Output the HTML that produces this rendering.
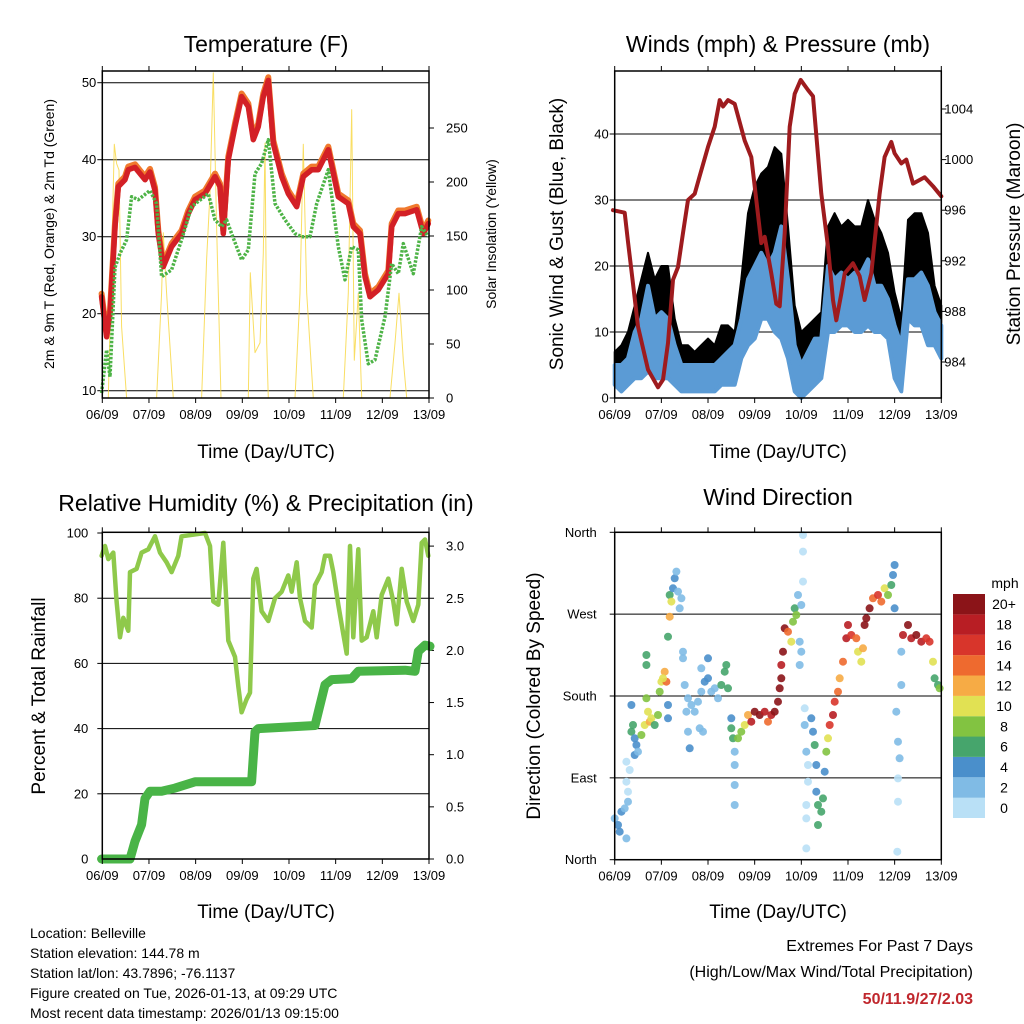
<!DOCTYPE html>
<html><head><meta charset="utf-8">
<style>
html,body{margin:0;padding:0;background:#fff;}
svg{display:block;font-family:"Liberation Sans",Arial,sans-serif;}
</style></head>
<body>
<svg id="s" width="1024" height="1024" viewBox="0 0 1024 1024" xmlns="http://www.w3.org/2000/svg">
<g id="g1"></g>
<g id="g2"></g>
<g id="g3"></g>
<g id="g4"></g>
<g id="gt">
<text x="266" y="52" font-size="23" text-anchor="middle">Temperature (F)</text>
<text x="778" y="52" font-size="23" text-anchor="middle">Winds (mph) &amp; Pressure (mb)</text>
<text x="266" y="511" font-size="23" text-anchor="middle">Relative Humidity (%) &amp; Precipitation (in)</text>
<text x="778" y="505" font-size="23" text-anchor="middle">Wind Direction</text>
<text x="266" y="458" font-size="19" text-anchor="middle">Time (Day/UTC)</text>
<text x="778" y="458" font-size="19" text-anchor="middle">Time (Day/UTC)</text>
<text x="266" y="918" font-size="19" text-anchor="middle">Time (Day/UTC)</text>
<text x="778" y="918" font-size="19" text-anchor="middle">Time (Day/UTC)</text>
<text transform="translate(54,234) rotate(-90)" font-size="14" text-anchor="middle">2m &amp; 9m T (Red, Orange) &amp; 2m Td (Green)</text>
<text transform="translate(496,234) rotate(-90)" font-size="14" text-anchor="middle">Solar Insolation (Yellow)</text>
<text transform="translate(563,234) rotate(-90)" font-size="19" text-anchor="middle">Sonic Wind &amp; Gust (Blue, Black)</text>
<text transform="translate(1020,234) rotate(-90)" font-size="19" text-anchor="middle">Station Pressure (Maroon)</text>
<text transform="translate(45,696) rotate(-90)" font-size="19" text-anchor="middle">Percent &amp; Total Rainfall</text>
<text transform="translate(540,696) rotate(-90)" font-size="19" text-anchor="middle">Direction (Colored By Speed)</text>
<g font-size="14">
<text x="30" y="938">Location: Belleville</text>
<text x="30" y="958">Station elevation: 144.78 m</text>
<text x="30" y="978">Station lat/lon: 43.7896; -76.1137</text>
<text x="30" y="998">Figure created on Tue, 2026-01-13, at 09:29 UTC</text>
<text x="30" y="1018">Most recent data timestamp: 2026/01/13 09:15:00</text>
</g>
<text x="973" y="951" font-size="16" text-anchor="end">Extremes For Past 7 Days</text>
<text x="973" y="977" font-size="16" text-anchor="end">(High/Low/Max Wind/Total Precipitation)</text>
<text x="973" y="1004" font-size="16" font-weight="bold" fill="#c0272d" text-anchor="end">50/11.9/27/2.03</text>
</g>
</svg>
<script>
// ---------- DATA ----------
const dayLabels=["06/09","07/09","08/09","09/09","10/09","11/09","12/09","13/09"];
const tempX=[20,35,45,60,70,90,100,120,150,165,180,190,205,230,260,280,300,330,360,375,385,400,420,440,460,475,490,505,520,535,560,580,605,625,650,670,700,730,760,775,795,810,825,850,880,890,910,930,965,985,1000];
const tempV=[22.2,17,20,31.3,36.5,37.4,38.7,39,37.4,38.4,36,30.4,26.1,28.7,30.4,33,34.8,35.6,37.8,36.5,30.4,40,44.3,48.2,46.9,42.6,44.3,48.2,50.3,42.1,37.8,35.6,33.9,37.8,38.7,38.7,41.3,35.2,34.3,31.3,30.4,24.8,22.2,23.1,25.2,31.3,33,33,33.5,30.4,31.7];
const dewX=[20,35,45,60,75,95,110,130,165,185,200,230,260,290,340,360,380,395,410,440,460,480,500,520,540,570,600,620,645,665,700,730,750,770,790,800,820,840,870,890,910,925,955,980,1000];
const dewV=[9.7,15.3,11.8,26,27.8,29.6,35.2,34.8,36,34.3,24.8,25.7,29.6,33.9,35.6,32.2,31.3,32.2,30.4,27,28.3,38.2,39.5,42.6,34.3,32.2,30.4,30,30,34.3,38.7,28.7,24.4,28.7,28.3,19.2,13.5,14,19.6,26.5,25.2,29.1,25.2,31.3,30];
const solarX=[22,40,58,65,72,80,95,185,200,205,215,235,320,335,345,355,365,378,460,466,480,495,505,510,515,520,600,615,625,635,655,745,760,770,778,790,800,885,900,912,925,935,1002];
const solarV=[0,0,235,217,211,66,0,0,97,153,97,0,0,128,190,301,159,0,0,116,42,51,134,236,51,0,0,97,235,97,0,0,97,267,35,97,0,0,51,97,35,0,0];
const windT=[0,0.143,0.286,0.429,0.571,0.714,0.857,1,1.143,1.286,1.429,1.571,1.714,1.857,2,2.143,2.286,2.429,2.571,2.714,2.857,3,3.143,3.286,3.429,3.571,3.714,3.857,4,4.143,4.286,4.429,4.571,4.714,4.857,5,5.143,5.286,5.429,5.571,5.714,5.857,6,6.143,6.286,6.429,6.571,6.714,6.857,7];
const windLo=[2,1,2,3,3,4,3,3,3,2,1,1,1,1,1,1,2,2,2,6,8,9,12,12,10,9,6,1,0,1,2,3,10,10,11,11,10,10,11,10,10,9,3,1,12,11,11,8,8,6];
const windHi=[5,5,6,10,12,17,12,13,12,8,5,5,5,5,5,5,6,7,8,12,18,20,22,20,22,26,18,8,5,7,9,9,20,18,19,18,19,19,21,17,17,15,11,8,18,18,19,17,13,11];
const gustLo=[3,3,4,6,6,8,7,6,6,5,3,3,3,3,3,3,4,4,4,8,12,15,18,20,16,16,10,3,2,3,4,5,15,15,15,15,14,15,16,14,14,12,5,3,17,16,15,12,10,8];
const gustHi=[7,8,10,14,18,22,18,20,20,12,8,8,7,8,9,8,11,11,10,18,28,32,34,35,38,37,26,14,10,11,12,13,26,28,26,27,26,26,30,27,25,22,16,12,27,28,28,25,17,14];
const presX=[15,50,60,75,90,120,150,165,180,195,210,225,240,260,275,300,320,335,345,360,380,410,430,445,460,470,490,505,515,530,545,560,578,600,615,640,660,675,685,700,710,735,755,770,790,815,830,850,860,880,895,915,950,975,1000];
const presV=[996,995.8,993.5,990.2,986.8,983.4,982,982.6,985.5,990.5,991.5,994.2,996.8,997.3,998.7,1001,1002.6,1004.7,1004.2,1004.7,1004.4,1001.5,1000.2,996.8,993.4,993.9,991,988.6,988.4,994.2,1002.6,1005.2,1006.3,1005.5,1005,997.3,993.1,988.9,987.3,989.4,991,991.8,990.8,988.9,991,997.3,1000.2,1001.4,1000.5,999.7,1000,998.1,998.6,997.9,997.1];
const rhX=[20,30,40,55,65,75,85,100,105,125,140,160,180,195,215,230,250,260,330,345,355,370,385,400,420,430,440,455,465,475,485,500,520,540,560,580,590,605,615,630,650,660,680,690,705,715,730,745,755,765,775,790,800,815,835,845,860,880,895,905,920,935,955,970,980,990,1000];
const rhV=[93,96,92,94,79,68,74,70,88,89,94,95,99,94,91,88,93,99,100,96,79,78,97,67,62,53,45,49,51,86,89,76,73,80,82,87,82,91,80,73,71,84,88,93,93,88,78,69,63,96,68,95,67,68,76,68,81,86,79,72,89,79,73,78,97,98,93];
const rainX=[20,105,120,140,150,165,200,240,300,470,480,490,660,670,690,710,770,790,930,960,970,990,1005];
const rainV=[0,0,0.17,0.33,0.58,0.65,0.65,0.68,0.74,0.74,1.22,1.25,1.28,1.41,1.67,1.72,1.73,1.8,1.81,1.8,1.99,2.05,2.04];
const dirZX=[20,30,40,50,35,60,55,60,55,65,55,70,75,80,85,80,90,70,100,110,120,125,115,130,140,150,155,160,170,175,165,180,180,115,115,185,190,195,200,205,210,215,220,185,180,225,225,230,240,235,240,245,250,260,270,280,280,290,300,310,320,330,340,350,355,360,300,275,285,370,370,375,380,380,380,380,390,400,410,420,430,440,455,470,480,490,500,510,515,520,525,520,530,540,550,555,560,565,570,580,585,585,585,575,575,580,590,590,595,600,600,595,595,595,610,615,620,625,625,630,630,640,645,650,655,660,665,675,680,690,695,705,715,720,730,745,750,760,765,770,775,785,795,810,820,830,840,850,855,860,860,865,870,875,870,870,868,880,880,885,900,910,925,940,955,965,975,980,990,995];
const dirZY=[880,900,860,850,920,830,940,800,770,735,710,620,600,640,660,690,680,540,630,600,560,590,520,580,600,570,500,470,440,470,460,540,580,420,390,210,230,190,160,140,200,250,220,275,335,380,400,480,520,560,620,670,540,560,530,500,430,470,460,500,490,520,480,440,420,490,400,610,620,580,610,640,680,720,780,840,640,620,600,570,590,560,570,560,590,570,560,530,490,460,380,420,310,320,350,290,250,270,210,240,170,80,30,350,420,380,550,600,680,720,770,840,880,970,580,620,660,720,800,840,900,860,820,740,680,640,600,570,530,500,460,410,340,300,330,340,380,410,370,300,280,250,220,210,230,190,210,180,150,120,250,560,650,700,760,830,980,380,480,330,300,340,330,350,340,350,410,460,480,490];
const dirSpd=[3,4,4,3,4,2,2,1,1,1,1,6,7,5,4,4,3,4,9,10,10,12,8,11,7,8,9,10,13,14,11,4,4,7,6,7,10,4,4,3,3,3,3,13,6,3,2,2,3,2,3,4,2,2,3,2,3,4,4,3,3,2,7,7,6,7,4,2,2,4,6,6,3,2,2,2,8,9,11,13,19,20,20,19,15,19,20,20,20,20,20,18,20,14,11,8,6,8,2,2,1,1,1,2,3,3,1,3,2,1,1,1,1,1,4,5,7,4,4,6,7,7,6,4,8,10,17,18,17,14,12,15,19,18,17,14,11,10,13,20,20,20,15,16,14,11,9,7,5,4,4,2,3,2,1,1,1,3,3,18,20,18,20,18,16,16,10,7,6,8];
const cbLabels=["0","2","4","6","8","10","12","14","16","18","20+"];
const cbColors=["#b9e0f6","#80bbe5","#4a8fcb","#46a56c","#82c341","#e1e153","#f6ab45","#ee6a2f","#d8352b","#b81e24","#8b1418"];

// ---------- HELPERS ----------
const NS="http://www.w3.org/2000/svg";
function mk(parent,tag,attrs){const e=document.createElementNS(NS,tag);for(const k in attrs)e.setAttribute(k,attrs[k]);parent.appendChild(e);return e;}
const zxT1=zx=>(zx-22)/140, zxT2=zx=>(zx-20)/140;
function frame(g,x0,x1,y0,y1){
  const r=mk(g,'rect',{x:x0,y:y0,width:x1-x0,height:y1-y0,fill:'none',stroke:'#000','stroke-width':1.5});
  
  
  for(let d=0;d<=7;d++){const x=x0+(x1-x0)*d/7;
    mk(g,'line',{x1:x,x2:x,y1:y1,y2:y1+5,stroke:'#000','stroke-width':1});
    mk(g,'line',{x1:x,x2:x,y1:y0,y2:y0-5,stroke:'#000','stroke-width':1});
    const t=mk(g,'text',{x:x,y:y1+21,'font-size':13,'text-anchor':'middle'});t.textContent=dayLabels[d];
    
    
  }
}
function hline(g,x0,x1,y){mk(g,'line',{x1:x0,x2:x1,y1:y,y2:y,stroke:'#000','stroke-width':1});}
function ylab(g,x,y,s,anchor){const t=mk(g,'text',{x:x,y:y+4.5,'font-size':13,'text-anchor':anchor});t.textContent=s;
  
  }
function poly(g,xs,ys,attrs){const p=xs.map((x,i)=>x.toFixed(1)+','+ys[i].toFixed(1)).join(' ');return mk(g,'polyline',Object.assign({points:p,fill:'none','stroke-linejoin':'round','stroke-linecap':'round'},attrs));}

// ---------- PANEL 1 ----------
(function(){const g=document.getElementById('g1');
const X0=102.3,X1=429,Y0=71,Y1=398;
const xT=t=>X0+t*(X1-X0)/7, yT=v=>390.7-(v-10)*7.7, yS=v=>398-v*1.08;
[10,20,30,40,50].forEach(v=>{hline(g,X0,X1,yT(v));mk(g,'line',{x1:X0-5,x2:X0,y1:yT(v),y2:yT(v),stroke:'#000'});ylab(g,X0-6,yT(v),String(v),'end');});
[0,50,100,150,200,250].forEach(v=>{mk(g,'line',{x1:X1,x2:X1+5,y1:yS(v),y2:yS(v),stroke:'#000'});ylab(g,X1+17,yS(v),String(v),'start');});
const sol=poly(g,solarX.map(z=>xT(zxT1(z))),solarV.map(yS),{stroke:'#f7d63c','stroke-width':1,'stroke-opacity':0.8});


const or=poly(g,tempX.map(z=>xT(zxT1(z))),tempV.map(v=>yT(v+0.4)),{stroke:'#f07a2e','stroke-width':6});


const rd=poly(g,tempX.map(z=>xT(zxT1(z))),tempV.map(yT),{stroke:'#d32026','stroke-width':5.5});


const gr=poly(g,dewX.map(z=>xT(zxT1(z))),dewV.map(yT),{stroke:'#4db346','stroke-width':3.5,'stroke-dasharray':'2.5 1.5','stroke-linecap':'butt'});


frame(g,X0,X1,Y0,Y1);})();

// ---------- PANEL 2 ----------
(function(){const g=document.getElementById('g2');
const X0=614.7,X1=941.3,Y0=71,Y1=398;
const xW=t=>X0+t*(X1-X0)/7, yW=m=>398-m*6.6, yP=p=>362-(p-984)*12.65;
[10,20,30,40].forEach(v=>hline(g,X0,X1,yW(v)));
[0,10,20,30,40].forEach(v=>{mk(g,'line',{x1:X0-5,x2:X0,y1:yW(v),y2:yW(v),stroke:'#000'});ylab(g,X0-6,yW(v),String(v),'end');});
[984,988,992,996,1000,1004].forEach(v=>{mk(g,'line',{x1:X1,x2:X1+5,y1:yP(v),y2:yP(v),stroke:'#000'});ylab(g,X1+3,yP(v),String(v),'start');});
function band(lo,hi,col,name,sw){const pts=windT.map((t,i)=>xW(t).toFixed(1)+','+yW(hi[i]).toFixed(1)).concat(windT.map((t,i)=>xW(t).toFixed(1)+','+yW(lo[i]).toFixed(1)).reverse());
 const p=mk(g,'polygon',{points:pts.join(' '),fill:col,stroke:col,'stroke-width':sw,'stroke-linejoin':'round'});
 
 }
band(gustLo,gustHi,'#000','gust-band',2);
band(windLo,windHi,'#5b9bd5','wind-band',4);
const pr=poly(g,presX.map(z=>xW(zxT2(z))),presV.map(yP),{stroke:'#9e1b1e','stroke-width':4});


frame(g,X0,X1,Y0,Y1);})();

// ---------- PANEL 3 ----------
(function(){const g=document.getElementById('g3');
const X0=102.3,X1=429,Y0=532.3,Y1=859;
const xR=t=>X0+t*(X1-X0)/7, yH=v=>859-v*3.26, yR=v=>859-v*104.3;
[20,40,60,80].forEach(v=>hline(g,X0,X1,yH(v)));
[0,20,40,60,80,100].forEach(v=>{mk(g,'line',{x1:X0-5,x2:X0,y1:yH(v),y2:yH(v),stroke:'#000'});ylab(g,X0-14,yH(v),String(v),'end');});
[0,0.5,1,1.5,2,2.5,3].forEach(v=>{mk(g,'line',{x1:X1,x2:X1+5,y1:yR(v),y2:yR(v),stroke:'#000'});ylab(g,X1+17,yR(v),v.toFixed(1),'start');});
const rh=poly(g,rhX.map(z=>xR(zxT1(z))),rhV.map(yH),{stroke:'#8fc94b','stroke-width':4.5});


const rn=poly(g,rainX.map(z=>xR(zxT1(z))),rainV.map(yR),{stroke:'#49b447','stroke-width':9});


frame(g,X0,X1,Y0,Y1);})();

// ---------- PANEL 4 ----------
(function(){const g=document.getElementById('g4');
const X0=614.7,X1=941.3,Y0=532.3,Y1=859.7;
const xD=t=>X0+t*(X1-X0)/7, yD=d=>Y1-d/360*(Y1-Y0);
const names=["North","East","South","West","North"];
[0,90,180,270,360].forEach((d,i)=>{hline(g,X0,X1,yD(d));mk(g,'line',{x1:X0-5,x2:X0,y1:yD(d),y2:yD(d),stroke:'#000'});ylab(g,X0-18,yD(d),names[i],'end');});
dirZX.forEach((zx,i)=>{const t=zxT2(zx), d=(1004-dirZY[i])*360/982;
 const ci=Math.min(10,Math.floor(dirSpd[i]/2));
 const c=mk(g,'circle',{cx:xD(t).toFixed(1),cy:yD(d).toFixed(1),r:4,fill:cbColors[ci],'fill-opacity':0.9});
 
 });
frame(g,X0,X1,Y0,Y1);
const lg=mk(g,'g',{});


const bh=224/11;
cbLabels.forEach((s,i)=>{const y=818-(i+1)*bh;
 const r=mk(lg,'rect',{x:953,y:y.toFixed(1),width:32,height:bh.toFixed(1),fill:cbColors[i]});
 
 
 const t=mk(lg,'text',{x:1004,y:(y+bh/2+5).toFixed(1),'font-size':14,'text-anchor':'middle'});t.textContent=s;
 
 });
const m=mk(lg,'text',{x:1005,y:588,'font-size':14,'text-anchor':'middle'});m.textContent='mph';


})();
</script>
</body></html>
